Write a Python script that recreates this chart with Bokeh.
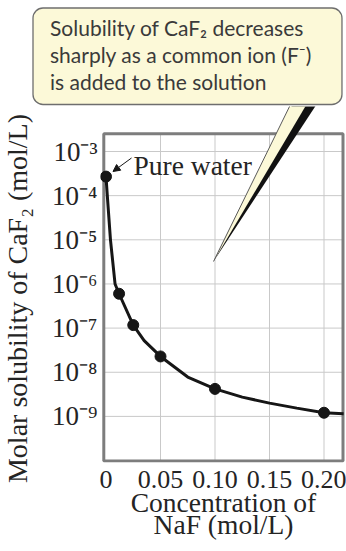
import math
from bokeh.plotting import figure
from bokeh.models import (FixedTicker, Label, PolyAnnotation, Arrow, NormalHead, Range1d)
from bokeh.embed import file_html
from bokeh.resources import INLINE

# ---- data ----
naf_conc = [0.0, 0.012, 0.025, 0.05, 0.10, 0.20]
caf2_solubility = [2.7e-4, 6.0e-7, 1.17e-7, 2.28e-8, 4.2e-9, 1.21e-9]

curve_conc = [0.0, 0.0012, 0.0041, 0.0083, 0.012, 0.025, 0.035, 0.05, 0.075,
              0.10, 0.125, 0.15, 0.175, 0.20, 0.218]
curve_solubility = [2.7e-4, 1.0e-4, 1.0e-5, 1.0e-6, 6.0e-7, 1.17e-7, 5.2e-8, 2.28e-8,
                    7.8e-9, 4.2e-9, 2.73e-9, 2.0e-9, 1.54e-9, 1.21e-9, 1.15e-9]

x_ticks = [0.0, 0.05, 0.10, 0.15, 0.20]
x_tick_labels = ["0", "0.05", "0.10", "0.15", "0.20"]
y_ticks = [1e-9, 1e-8, 1e-7, 1e-6, 1e-5, 1e-4, 1e-3]
y_tick_labels = ["10⁻⁹", "10⁻⁸", "10⁻⁷", "10⁻⁶", "10⁻⁵", "10⁻⁴", "10⁻³"]

callout_lines = ["Solubility of CaF₂ decreases",
                 "sharply as a common ion (F⁻)",
                 "is added to the solution"]
x_title = "Concentration of\nNaF (mol/L)"
y_title = "Molar solubility of CaF₂ (mol/L)"

# ---- layout constants (page pixels; the canvas sits at the page's top-left) ----
W, H = 346, 551
FR_L, FR_T, FR_B = 100, 106, 462        # Bokeh frame (drawing area)
BOX_L, BOX_R, BOX_T, BOX_B = 103.3, 342.5, 133.3, 460.5   # visible plot box
PX_PER_X = 1090.0                        # px per mol/L
X_ZERO_PX = 105.5                        # page x of 0 mol/L
Y_REF_PX, PX_PER_DEC = 151.0, 44.15      # page y of 1e-3, px per decade


def xd(wx):
    return (wx - X_ZERO_PX) / PX_PER_X


def yd(wy):
    return 10 ** (-3 - (wy - Y_REF_PX) / PX_PER_DEC)


SERIF = "Liberation Serif"
INK = "#242424"
GRID = "#c9c9c9"

p = figure(width=W, height=H, y_axis_type="log",
           x_range=Range1d(xd(FR_L), xd(W)), y_range=Range1d(yd(FR_B), yd(FR_T)),
           output_backend="svg", toolbar_location=None,
           min_border_left=FR_L, min_border_right=0,
           min_border_top=FR_T, min_border_bottom=H - FR_B)
p.background_fill_color = "white"
p.border_fill_color = "white"
p.outline_line_color = None
p.xgrid.visible = False
p.ygrid.visible = False

p.xaxis.ticker = FixedTicker(ticks=x_ticks)
p.xaxis.major_label_overrides = dict(zip(x_ticks, x_tick_labels))
p.yaxis.ticker = FixedTicker(ticks=y_ticks, minor_ticks=[])
p.yaxis.major_label_overrides = dict(zip(y_ticks, y_tick_labels))

for ax in (p.xaxis, p.yaxis):
    ax.axis_line_color = None
    ax.major_tick_line_color = None
    ax.minor_tick_line_color = None
    ax.major_tick_out = 0
    ax.major_tick_in = 0
    ax.major_label_text_font = SERIF
    ax.major_label_text_color = INK

p.xaxis.major_label_text_font_size = "26px"
p.yaxis.major_label_text_font_size = "27px"
p.xaxis.major_label_standoff = 8
p.yaxis.major_label_standoff = 3
p.xaxis.axis_label = x_title
p.xaxis.axis_label_text_font = SERIF
p.xaxis.axis_label_text_font_size = "27.5px"
p.xaxis.axis_label_text_font_style = "normal"
p.xaxis.axis_label_text_color = INK
p.xaxis.axis_label_text_line_height = 0.72
p.xaxis.axis_label_standoff = -4

# grid lines and plot box, drawn from the tick arrays
gx = x_ticks[1:]
p.segment(x0=gx, y0=[yd(BOX_B)] * len(gx), x1=gx, y1=[yd(BOX_T)] * len(gx),
          line_color=GRID, line_width=1)
p.segment(x0=[xd(BOX_L)] * len(y_ticks), y0=y_ticks,
          x1=[xd(BOX_R)] * len(y_ticks), y1=y_ticks, line_color=GRID, line_width=1)
p.quad(left=[xd(BOX_L)], right=[xd(BOX_R)], top=[yd(BOX_T)], bottom=[yd(BOX_B)],
       fill_color=None, line_color="#7d7d7d", line_width=3)

p.line(curve_conc, curve_solubility, line_width=3, color="#161616")
p.scatter(naf_conc, caf2_solubility, size=11, color="#161616")

# y-axis title
p.add_layout(Label(x=xd(17), y=yd(298), text=y_title, angle=math.pi / 2,
                   text_font=SERIF, text_font_size="28px", text_color=INK,
                   text_align="center", text_baseline="middle"), "left")

# "Pure water" annotation
p.add_layout(Arrow(x_start=xd(131), y_start=yd(157.5), x_end=xd(112.5), y_end=yd(171),
                   line_color="#161616", line_width=1,
                   end=NormalHead(size=7, fill_color="#161616", line_color="#161616")))
p.add_layout(Label(x=xd(133), y=yd(165), text="Pure water", text_font=SERIF,
                   text_font_size="27.5px", text_color=INK,
                   text_baseline="middle", text_align="left"))

# pointer of the callout
CREAM = "#fcf9d8"
p.add_layout(PolyAnnotation(xs=[xd(213), xd(292), xd(316)],
                            ys=[yd(261), yd(104), yd(104)],
                            fill_color="#111111", fill_alpha=1, line_color=None))
p.add_layout(PolyAnnotation(xs=[xd(213), xd(290), xd(306)],
                            ys=[yd(261), yd(104), yd(104)],
                            fill_color=CREAM, fill_alpha=1, line_color=None))
p.add_layout(Arrow(x_start=xd(213), y_start=yd(261), x_end=xd(290), y_end=yd(104),
                   line_color="#5a5a5a", line_width=1, end=None))

# callout box with its text (padding: left, right, top, bottom)
p.add_layout(Label(x=xd(32.5), y=yd(7.5), anchor="top_left",
                   text="\n".join(callout_lines), text_font="Lato",
                   text_font_size="21px", text_color="#3a3a3a",
                   text_line_height=1.07, text_align="left",
                   padding=(17, 30, 7, 11), border_radius=10,
                   background_fill_color=CREAM, background_fill_alpha=1,
                   border_line_color="#6e6e6e", border_line_width=1.3), "above")

open("out.html", "w").write(file_html(p, INLINE))
